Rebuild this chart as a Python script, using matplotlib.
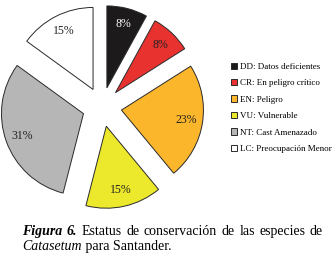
import matplotlib
matplotlib.use("Agg")
import matplotlib.pyplot as plt

# conservation status data (percent of species)
labels = ["DD: Datos deficientes", "CR: En peligro crítico", "EN: Peligro",
          "VU: Vulnerable", "NT: Cast Amenazado", "LC: Preocupación Menor"]
values = [8, 8, 23, 15, 31, 15]
colors = ["#1c1a1b", "#e8322f", "#fbb62b", "#ece82c", "#b6b6b6", "#ffffff"]
pct_colors = ["white", "#222222", "#222222", "#222222", "#222222", "#222222"]

plt.rcParams["font.family"] = ["Liberation Serif", "DejaVu Serif"]

W, H = 336, 262
fig = plt.figure(figsize=(W / 100, H / 100), dpi=100)

# pie centre and radius in pixels
cx, cy, r = 102, 107, 82
lim = 1.27
R = r * lim
ax = fig.add_axes([(cx - R) / W, (H - cy - R) / H, 2 * R / W, 2 * R / H])

wedges, texts, autotexts = ax.pie(
    values, colors=colors, startangle=90, counterclock=False,
    explode=[0.24] * len(values), autopct="%d%%", pctdistance=0.8,
    wedgeprops=dict(edgecolor="#2a2a2a", linewidth=0.7),
    textprops=dict(fontsize=8.5))
for t, c in zip(autotexts, pct_colors):
    t.set_color(c)
ax.set_xlim(-lim, lim)
ax.set_ylim(-lim, lim)
ax.set_aspect("equal")
ax.axis("off")

leg = fig.legend(wedges, labels, loc="upper left",
                 bbox_to_anchor=(226 / W, 1 - 58 / H), frameon=False,
                 fontsize=6.5, handlelength=0.7, handleheight=0.7,
                 handletextpad=0.3, labelspacing=0.9, borderpad=0)

# caption, first line justified between x0 and x1
fs = 10
x0, x1 = 22, 323
line1 = [("Figura", dict(fontweight="bold", fontstyle="italic")),
         ("6.", dict(fontweight="bold", fontstyle="italic")),
         ("Estatus", {}), ("de", {}), ("conservación", {}), ("de", {}),
         ("las", {}), ("especies", {}), ("de", {})]
fig.canvas.draw()
renderer = fig.canvas.get_renderer()
words = []
for w, kw in line1:
    t = fig.text(0, 1 - 235 / H, w, fontsize=fs, va="baseline", **kw)
    words.append(t)
widths = [t.get_window_extent(renderer).width for t in words]
gap = (x1 - x0 - sum(widths)) / (len(words) - 1)
x = x0
for t, wd in zip(words, widths):
    t.set_x(x / W)
    x += wd + gap

t3 = fig.text(x0 / W, 1 - 250 / H, "Catasetum", fontsize=fs,
              fontstyle="italic", va="baseline")
ext = t3.get_window_extent(renderer)
fig.text(ext.x1 / W, 1 - 250 / H, " para Santander.", fontsize=fs,
         va="baseline")

fig.savefig("out.png", dpi=100)
